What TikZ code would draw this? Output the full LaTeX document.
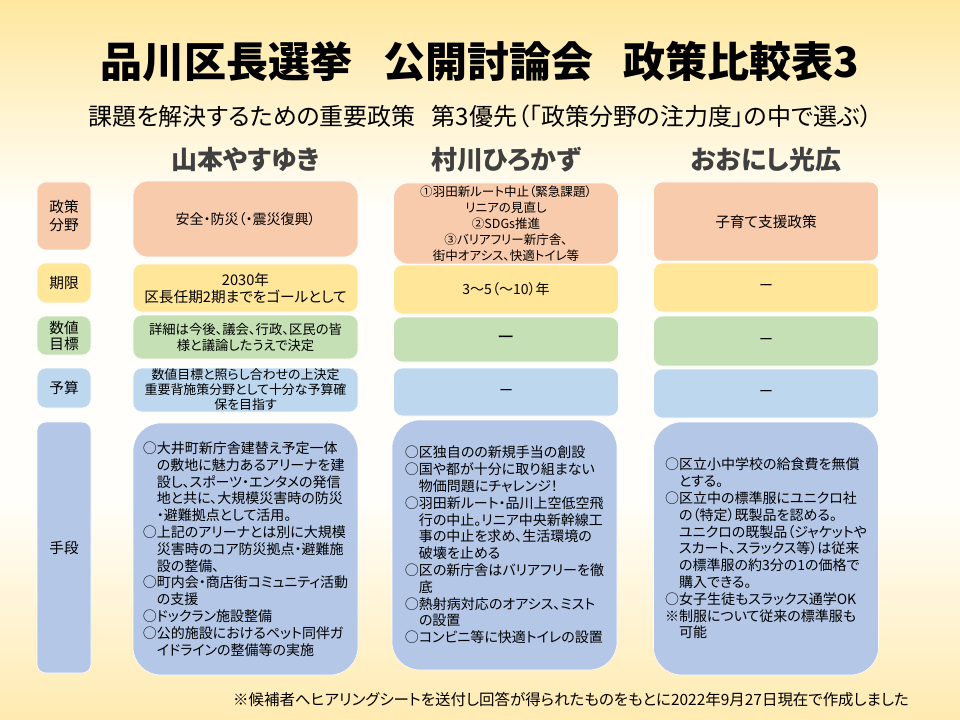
\documentclass[tikz,border=0pt]{standalone}
\usepackage{fontspec}
\setmainfont{Noto Sans CJK JP}[RawFeature={+palt}]
\newfontfamily\titlefont{Noto Sans CJK JP}
\usepackage{tikz}
\definecolor{bgtop}{HTML}{FFE79F}
\definecolor{bgmid}{HTML}{FFFEFA}
\definecolor{bgbottom}{HTML}{FFEAB0}
\definecolor{policy}{HTML}{F8CBAD}
\definecolor{term}{HTML}{FFE699}
\definecolor{target}{HTML}{C5E0B4}
\definecolor{budget}{HTML}{BDD7EE}
\definecolor{means}{HTML}{B4C7E7}
\definecolor{namegray}{HTML}{404040}
\tikzset{
  cell/.style={draw=white, line width=0.4pt, rounded corners=9*\PX,
    align=center, inner sep=0pt, text=black},
  label/.style={cell, minimum width=54*\PX, font=\fontsize{11}{14}\selectfont},
  column/.style={cell, minimum width=225*\PX},
  means/.style={cell, fill=means, minimum width=225*\PX, rounded corners=28*\PX,
    align=left, font=\fontsize{10.5}{12.6}\selectfont},
  cand/.style={text=namegray, font=\fontsize{19.5}{22}\selectfont\bfseries}
}

\begin{document}
\begin{tikzpicture}[x=0.75pt, y=-0.75pt]

  \newcommand\PX{0.75pt}

  \useasboundingbox (0,0) rectangle (960,720);
  \shade[top color=bgtop, bottom color=bgmid] (0,0) rectangle (960,210);
  \fill[bgmid] (0,210) rectangle (960,500);
  \shade[top color=bgmid, bottom color=bgbottom] (0,500) rectangle (960,720);

  \node[font=\titlefont\fontsize{31.5}{36}\selectfont\bfseries] (title) at (480,62)
    {品川区長選挙\hspace{23pt}公開討論会\hspace{23pt}政策比較表3};
  \node[font=\fontsize{18}{20}\selectfont] (subtitle) at (480.5,116)
    {課題を解決するための重要政策\hspace{12pt}第3優先（「政策分野の注力度」の中で選ぶ）};

  \node[cand] (yamamoto) at (245.5,160) {山本やすゆき};
  \node[cand] (murakawa) at (506,160) {村川ひろかず};
  \node[cand] (oonishi) at (766,160) {おおにし光広};

  % row labels
  \node[label, fill=policy, minimum height=68*\PX] (lab-policy) at (64,216) {政策\\分野};
  \node[label, fill=term, minimum height=40*\PX] (lab-term) at (64,283) {期限};
  \node[label, fill=target, minimum height=39*\PX, font=\fontsize{11}{12}\selectfont] (lab-target) at (64,335.5) {数値\\目標};
  \node[label, fill=budget, minimum height=40*\PX] (lab-budget) at (64,388) {予算};
  \node[label, fill=means, minimum height=251*\PX] (lab-means) at (64,547.5) {手段};

  % yamamoto
  \node[column, fill=policy, minimum height=76*\PX, rounded corners=15*\PX,
    font=\fontsize{10.5}{12}\selectfont] (c1-policy) at (245.5,219) {安全・防災（・震災復興）};
  \node[column, fill=term, minimum height=48*\PX, font=\fontsize{11}{12.75}\selectfont]
    (c1-term) at (245.5,288) {2030年\\区長任期2期までをゴールとして};
  \node[column, fill=target, minimum height=44*\PX, font=\fontsize{10}{12}\selectfont]
    (c1-target) at (245.5,337) {詳細は今後、議会、行政、区民の皆\\様と議論したうえで決定};
  \node[column, fill=budget, minimum height=44*\PX, font=\fontsize{9.7}{11.25}\selectfont]
    (c1-budget) at (245.5,390) {数値目標と照らし合わせの上決定\\重要背施策分野として十分な予算確\\保を目指す};
  \node[means, minimum height=252*\PX] (c1-means) at (245.5,549)
    {○大井町新庁舎建替え予定一体\\
     　の敷地に魅力あるアリーナを建\\
     　設し、スポーツ・エンタメの発信\\
     　地と共に、大規模災害時の防災\\
     　・避難拠点として活用。\\
     ○上記のアリーナとは別に大規模\\
     　災害時のコア防災拠点・避難施\\
     　設の整備、\\
     ○町内会・商店街コミュニティ活動\\
     　の支援\\
     ○ドックラン施設整備\\
     ○公的施設におけるペット同伴ガ\\
     　イドラインの整備等の実施};

  % murakawa
  \node[column, fill=policy, minimum height=81*\PX, rounded corners=15*\PX,
    font=\fontsize{9.4}{12}\selectfont] (c2-policy) at (506,223.5)
    {①羽田新ルート中止（緊急課題）\\リニアの見直し\\②SDGs推進\\③バリアフリー新庁舎、\\街中オアシス、快適トイレ等};
  \node[column, fill=term, minimum height=49*\PX, font=\fontsize{10.5}{12}\selectfont]
    (c2-term) at (506,289.5) {3〜5（〜10）年};
  \node[column, fill=target, minimum height=45*\PX, font=\fontsize{13}{14}\selectfont]
    (c2-target) at (506,339.5) {ー};
  \node[column, fill=budget, minimum height=48*\PX, font=\fontsize{10.5}{12}\selectfont]
    (c2-budget) at (506,392) {ー};
  \node[means, minimum height=250*\PX] (c2-means) at (504.5,545)
    {○区独自のの新規手当の創設\\
     ○国や都が十分に取り組まない\\
     　物価問題にチャレンジ！\\
     ○羽田新ルート・品川上空低空飛\\
     　行の中止。リニア中央新幹線工\\
     　事の中止を求め、生活環境の\\
     　破壊を止める\\
     ○区の新庁舎はバリアフリーを徹\\
     　底\\
     ○熱射病対応のオアシス、ミスト\\
     　の設置\\
     ○コンビニ等に快適トイレの設置};

  % oonishi
  \node[column, fill=policy, minimum height=79*\PX, font=\fontsize{11}{12}\selectfont]
    (c3-policy) at (766,221.5) {子育て支援政策};
  \node[column, fill=term, minimum height=49*\PX, font=\fontsize{10.5}{12}\selectfont]
    (c3-term) at (766,287.5) {ー};
  \node[column, fill=target, minimum height=50*\PX, font=\fontsize{10.5}{12}\selectfont]
    (c3-target) at (766,341) {ー};
  \node[column, fill=budget, minimum height=49*\PX, font=\fontsize{10.5}{12}\selectfont]
    (c3-budget) at (766,393.5) {ー};
  \node[means, minimum height=253*\PX] (c3-means) at (766,548.5)
    {○区立小中学校の給食費を無償\\
     　とする。\\
     ○区立中の標準服にユニクロ社\\
     　の（特定）既製品を認める。\\
     　ユニクロの既製品（ジャケットや\\
     　スカート、スラックス等）は従来\\
     　の標準服の約3分の1の価格で\\
     　購入できる。\\
     ○女子生徒もスラックス通学OK\\
     ※制服について従来の標準服も\\
     　可能};

  \node[font=\fontsize{11.6}{13}\selectfont] (note) at (571,700)
    {※候補者へヒアリングシートを送付し回答が得られたものをもとに2022年9月27日現在で作成しました};

\end{tikzpicture}
\end{document}
